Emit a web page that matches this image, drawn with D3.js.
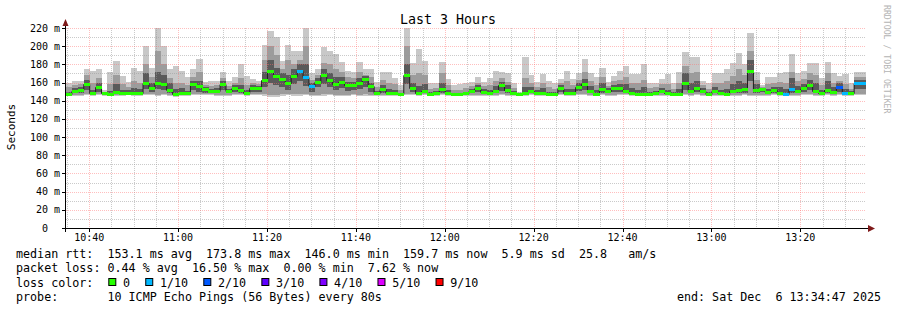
<!DOCTYPE html>
<html>
<head>
<meta charset="utf-8">
<script src="https://cdn.jsdelivr.net/npm/d3@7"></script>
<style>
  body { margin: 0; background: #fff; }
  text { font-family: "DejaVu Sans Mono", monospace; white-space: pre; fill: #000; }
</style>
</head>
<body>
<svg id="chart" width="897" height="310"></svg>
<script>
// 135 steps of 80s, last 3 hours, values in ms
var median = [
  147,151,152,158,148,155,148,147,150,148,149,148,149,160,154,
  160,158,152,147,149,148,158,156,153,151,151,158,151,154,152,
  148,154,154,163,173,167,164,159,167,173,166,156,161,168,163,
  158,161,157,157,160,164,156,148,153,148,148,147,168,154,148,
  151,147,149,153,149,147,147,148,151,154,150,148,151,157,152,
  149,147,148,151,149,149,147,147,154,149,149,155,158,151,147,
  153,151,154,154,151,148,147,147,147,148,151,148,147,147,159,
  151,154,151,147,151,148,147,151,152,153,173,152,153,150,152,
  149,147,153,151,154,157,151,148,152,150,155,149,148,160,160];
var pingMax = [
  160,162,162,175,173,175,152,172,184,167,161,176,173,200,176,
  220,200,175,178,173,166,175,186,161,162,162,172,162,166,180,
  167,164,162,201,217,210,184,201,195,195,220,170,175,199,195,
  191,183,173,172,183,175,175,161,172,172,165,157,220,181,197,
  184,160,159,183,164,157,158,159,161,166,161,165,173,172,170,
  159,150,188,168,161,169,162,159,164,173,164,171,186,170,166,
  176,161,167,173,178,169,169,180,160,160,164,169,159,172,194,
  188,188,162,159,170,170,175,181,192,180,214,172,157,166,166,
  171,172,191,171,173,181,181,165,183,170,167,169,159,172,172];
var pingMin = [
  145,145,145,146,145,146,145,145,145,145,146,145,145,146,146,
  145,146,145,144,145,145,146,146,146,146,145,145,145,146,146,
  145,146,146,145,144,144,145,146,145,145,146,145,145,145,146,
  145,145,145,146,145,145,145,145,145,145,145,145,146,146,145,
  146,145,145,146,145,145,145,145,145,145,145,145,145,146,145,
  145,145,145,146,145,145,145,145,146,145,145,146,146,145,145,
  146,145,145,146,146,145,145,145,145,145,145,145,145,145,146,
  145,146,145,145,145,145,145,145,145,146,145,145,145,145,146,
  145,145,145,145,146,146,145,145,146,145,146,145,145,146,146];
var midHigh = [
  155,157,158,168,160,165,150,158,168,158,155,162,160,180,166,
  195,180,165,160,160,157,166,172,157,156,157,165,156,160,165,
  157,159,158,185,200,190,175,185,180,185,200,163,168,182,180,
  175,172,166,165,172,168,166,155,163,160,158,152,200,168,170,
  168,153,154,170,157,152,152,154,156,160,156,157,162,165,161,
  154,149,165,160,155,160,155,153,159,162,157,163,172,162,157,
  166,156,162,163,166,160,159,163,154,155,158,158,153,160,178,
  170,172,157,153,160,159,162,167,175,168,195,163,155,158,159,
  161,160,172,162,164,170,168,157,170,160,162,158,153,166,166];
var midLow = [
  146,146,146,147,146,147,146,146,146,146,147,146,146,147,147,
  146,147,146,146,146,146,147,147,147,147,146,146,146,147,147,
  146,147,147,147,146,146,147,147,147,147,147,146,146,147,147,
  146,146,146,147,146,147,146,146,146,146,146,146,147,147,146,
  147,146,146,147,146,146,146,146,146,146,146,146,146,147,146,
  146,146,146,147,146,146,146,146,147,146,146,147,147,146,146,
  147,146,146,147,147,146,146,146,146,146,146,146,146,146,147,
  146,147,146,146,146,146,146,146,146,147,146,146,146,146,147,
  146,146,146,146,147,147,146,146,147,146,147,146,146,147,147];
var darkHigh = [
  150,154,155,163,152,159,149,151,158,152,152,154,153,170,159,
  172,168,159,153,154,151,162,162,155,153,154,162,153,157,157,
  152,157,156,172,185,176,170,168,175,180,180,160,165,175,170,
  166,166,161,161,165,167,160,151,157,153,152,149,180,160,156,
  158,150,151,160,152,149,149,150,153,157,153,152,156,161,157,
  151,148,155,155,152,154,150,150,157,153,153,159,164,156,152,
  160,154,157,158,158,154,152,155,150,151,154,152,150,153,170,
  160,162,154,150,155,152,153,158,162,160,185,158,154,153,155,
  155,153,165,156,158,163,160,152,162,155,159,153,151,163,163];
var darkLow = [
  146,148,149,152,146,150,146,146,147,146,147,146,147,153,150,
  153,152,148,146,147,146,152,150,149,148,148,152,148,150,148,
  146,150,150,155,160,157,155,152,158,162,156,150,155,158,155,
  152,154,151,152,153,155,150,146,149,146,146,146,158,150,146,
  148,146,147,149,147,146,146,146,148,150,147,146,148,151,149,
  147,146,146,148,147,147,146,146,150,147,147,151,152,148,146,
  149,148,150,150,148,147,146,146,146,146,148,146,146,146,152,
  148,150,148,146,148,147,146,148,148,149,162,149,150,148,149,
  147,146,149,148,150,152,148,147,149,148,150,147,147,153,153];
// lost pings out of 10 per step
var lost = [
  0,0,0,0,0,0,0,0,0,0,0,0,0,0,0,
  0,0,0,0,0,0,0,0,0,0,0,0,0,0,0,
  0,0,0,0,0,0,0,0,0,1,1,1,0,0,0,
  0,0,0,0,0,0,0,0,0,0,0,0,0,0,0,
  0,0,0,0,0,0,0,0,0,0,0,0,0,0,0,
  0,0,0,0,0,0,0,0,0,0,0,0,0,0,0,
  0,0,0,0,0,0,0,0,0,0,0,0,0,0,0,
  0,0,0,0,0,0,0,0,0,0,0,0,0,0,0,
  0,1,1,0,0,0,0,0,0,0,2,1,0,1,1];

var lossLevels = ["0", "1/10", "2/10", "3/10", "4/10", "5/10", "9/10"];
var lossColors = ["#26ff00", "#00b8ff", "#0059ff", "#5e00ff", "#7e00ff", "#dd00ff", "#ff0000"];
var yTicks = [0, 20, 40, 60, 80, 100, 120, 140, 160, 180, 200, 220];
var legendLines = [
  "median rtt:  153.1 ms avg  173.8 ms max  146.0 ms min  159.7 ms now  5.9 ms sd  25.8   am/s",
  "packet loss: 0.44 % avg  16.50 % max  0.00 % min  7.62 % now"
];
var probeLine = "probe:       10 ICMP Echo Pings (56 Bytes) every 80s";
var endLine = "end: Sat Dec  6 13:34:47 2025";

var end = new Date(2025, 11, 6, 13, 34, 47);
var stepMs = 80 * 1000;
var start = new Date(end.getTime() - median.length * stepMs);
function stepTime(i) { return new Date(start.getTime() + i * stepMs); }

var svg = d3.select("#chart");
svg.append("rect").attr("width", 897).attr("height", 310).attr("fill", "#fff");

var x = d3.scaleTime().domain([start, end]).range([66, 866]);
var y = d3.scaleLinear().domain([0, 220]).range([228, 28]);

var plot = svg.append("g").attr("shape-rendering", "crispEdges");

// smoke bands
function band(lo, hi, color) {
  plot.append("g").selectAll("rect")
    .data(median)
    .enter().append("rect")
      .attr("x", function (d, i) { return x(stepTime(i)); })
      .attr("width", function (d, i) { return x(stepTime(i + 1)) - x(stepTime(i)) + 0.3; })
      .attr("y", function (d, i) { return y(hi[i]); })
      .attr("height", function (d, i) { return y(lo[i]) - y(hi[i]); })
      .attr("fill", color);
}
band(pingMin, pingMax, "#c8c8c8");
band(midLow, midHigh, "#9c9c9c");
band(darkLow, darkHigh, "#5a5a5a");

// grid over the smoke
var grid = svg.append("g");
var minorCol = "rgba(150,150,150,0.5)", majorCol = "rgba(255,110,110,0.45)";
var minorY = d3.range(10, 221, 20);
grid.selectAll(".hmin").data(minorY).enter().append("line")
  .attr("x1", 66).attr("x2", 866)
  .attr("y1", function (d) { return Math.round(y(d)) + 0.5; })
  .attr("y2", function (d) { return Math.round(y(d)) + 0.5; })
  .attr("stroke", minorCol).attr("stroke-dasharray", "1,1");
var minorX = d3.timeMinute.every(5).range(start, end).filter(function (t) { return t.getMinutes() % 20 != 0; });
grid.selectAll(".vmin").data(minorX).enter().append("line")
  .attr("y1", 28).attr("y2", 228)
  .attr("x1", function (d) { return Math.round(x(d)) + 0.5; })
  .attr("x2", function (d) { return Math.round(x(d)) + 0.5; })
  .attr("stroke", minorCol).attr("stroke-dasharray", "1,1");
grid.selectAll(".hmaj").data(yTicks.slice(1)).enter().append("line")
  .attr("x1", 66).attr("x2", 866)
  .attr("y1", function (d) { return Math.round(y(d)) + 0.5; })
  .attr("y2", function (d) { return Math.round(y(d)) + 0.5; })
  .attr("stroke", majorCol).attr("stroke-dasharray", "1,1");
var majorX = d3.timeMinute.every(20).range(start, end);
grid.selectAll(".vmaj").data(majorX).enter().append("line")
  .attr("y1", 28).attr("y2", 228)
  .attr("x1", function (d) { return Math.round(x(d)) + 0.5; })
  .attr("x2", function (d) { return Math.round(x(d)) + 0.5; })
  .attr("stroke", majorCol).attr("stroke-dasharray", "1,1");

// median step line
var medPts = median.map(function (d, i) { return [stepTime(i), d]; });
medPts.push([end, median[median.length - 1]]);
svg.append("path")
  .datum(medPts)
  .attr("fill", "none")
  .attr("stroke", "#202020")
  .attr("stroke-width", 1)
  .attr("d", d3.line()
    .x(function (d) { return x(d[0]); })
    .y(function (d) { return Math.round(y(d[1])) + 0.5; })
    .curve(d3.curveStepAfter));

// median marks coloured by loss
svg.append("g").attr("shape-rendering", "crispEdges").selectAll("rect")
  .data(median)
  .enter().append("rect")
    .attr("x", function (d, i) { return x(stepTime(i)); })
    .attr("width", function (d, i) { return x(stepTime(i + 1)) - x(stepTime(i)) + 0.3; })
    .attr("y", function (d) { return Math.round(y(d)) - 1; })
    .attr("height", 3)
    .attr("fill", function (d, i) { return lossColors[lost[i]]; });

// axes
var axes = svg.append("g").attr("shape-rendering", "crispEdges");
axes.append("line").attr("x1", 62).attr("x2", 870).attr("y1", 228.5).attr("y2", 228.5).attr("stroke", "#000");
axes.append("line").attr("x1", 65.5).attr("x2", 65.5).attr("y1", 232).attr("y2", 24).attr("stroke", "#000");
axes.selectAll(".yt").data(yTicks).enter().append("line")
  .attr("x1", 62).attr("x2", 66)
  .attr("y1", function (d) { return Math.round(y(d)) + 0.5; })
  .attr("y2", function (d) { return Math.round(y(d)) + 0.5; })
  .attr("stroke", "#000");
axes.selectAll(".xt").data(majorX).enter().append("line")
  .attr("y1", 228).attr("y2", 232)
  .attr("x1", function (d) { return Math.round(x(d)) + 0.5; })
  .attr("x2", function (d) { return Math.round(x(d)) + 0.5; })
  .attr("stroke", "#000");
svg.append("path").attr("d", "M62.5,26 L65.5,19 L68.5,26 Z").attr("fill", "#7f1a1a");
svg.append("path").attr("d", "M868,225 L875,228.5 L868,232 Z").attr("fill", "#7f1a1a");

// tick labels
svg.selectAll(".ylab").data(yTicks).enter().append("text")
  .attr("x", 60).attr("y", function (d) { return y(d) + 3.5; })
  .attr("text-anchor", "end").style("font-size", "10px")
  .text(function (d) { return d == 0 ? "0  " : d + " m"; });
var fmt = d3.timeFormat("%H:%M");
svg.selectAll(".xlab").data(majorX).enter().append("text")
  .attr("x", function (d) { return x(d); }).attr("y", 241)
  .attr("text-anchor", "middle").style("font-size", "10px")
  .text(function (d) { return fmt(d); });

// titles
svg.append("text").attr("x", 448).attr("y", 24).attr("text-anchor", "middle")
  .style("font-size", "13.3px").text("Last 3 Hours");
svg.append("text").attr("transform", "translate(15,127) rotate(-90)").attr("text-anchor", "middle")
  .style("font-size", "11px").text("Seconds");
svg.append("text").attr("transform", "translate(884,5) rotate(90)")
  .style("font-size", "8.2px").style("fill", "#b4b4b4")
  .text("RRDTOOL / TOBI OETIKER");

// legend
var lf = "11.7px";
legendLines.forEach(function (s, i) {
  svg.append("text").attr("x", 16).attr("y", 258.2 + i * 14.2).style("font-size", lf).text(s);
});
svg.append("text").attr("x", 16).attr("y", 286.6).style("font-size", lf).text("loss color:");
var bx = 108.3;
lossLevels.forEach(function (lvl, i) {
  svg.append("rect").attr("x", bx + 0.5).attr("y", 278.5).attr("width", 7).attr("height", 7)
    .attr("fill", lossColors[i]).attr("stroke", "#000").attr("stroke-width", 1);
  var t = svg.append("text").attr("x", bx + 14.7).attr("y", 286.6).style("font-size", lf).text(lvl);
  bx = bx + 14.7 + t.node().getComputedTextLength() + 15.2;
});
svg.append("text").attr("x", 16).attr("y", 300.9).style("font-size", lf).text(probeLine);
svg.append("text").attr("x", 881).attr("y", 300.9).attr("text-anchor", "end").style("font-size", lf).text(endLine);
</script>
</body>
</html>
